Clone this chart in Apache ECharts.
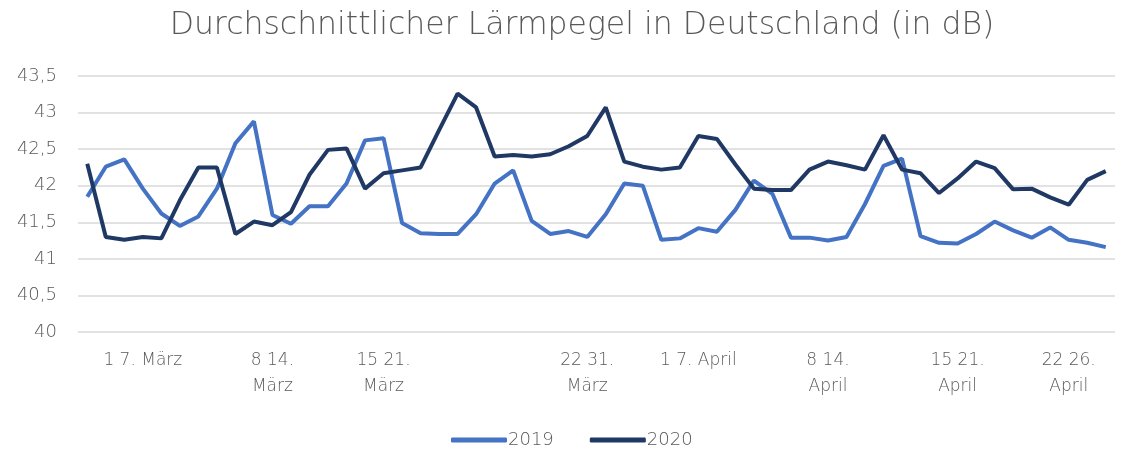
<!DOCTYPE html>
<html>
<head>
<meta charset="utf-8">
<title>Lärmpegel</title>
<script src="https://cdn.jsdelivr.net/npm/echarts@6/dist/echarts.min.js"></script>
<style>
	html, body { margin: 0; padding: 0; background: #fff; }
	#chart { width: 1122px; height: 450px; }
</style>
</head>
<body>
<div id="chart"></div>
<script>
// Tage (56 Messpunkte), nur einige bekommen eine Beschriftung
var tickPos = [3, 10, 16, 27, 33, 40, 47, 53];
var tickLabels = ['1 7. März', '8 14.\nMärz', '15 21.\nMärz', '22 31.\nMärz',
	'1 7. April', '8 14.\nApril', '15 21.\nApril', '22 26.\nApril'];

var werte2019 = [41.85, 42.26, 42.36, 41.96, 41.62, 41.45, 41.58, 41.96, 42.58, 42.88,
	41.60, 41.48, 41.72, 41.72, 42.03, 42.62, 42.65, 41.49, 41.35, 41.34,
	41.34, 41.61, 42.03, 42.21, 41.52, 41.34, 41.38, 41.30, 41.61, 42.03,
	42.00, 41.26, 41.28, 41.42, 41.37, 41.67, 42.07, 41.89, 41.29, 41.29,
	41.25, 41.30, 41.75, 42.27, 42.37, 41.31, 41.22, 41.21, 41.34, 41.51,
	41.39, 41.29, 41.43, 41.26, 41.22, 41.16];

var werte2020 = [42.30, 41.30, 41.26, 41.30, 41.28, 41.80, 42.25, 42.25, 41.34, 41.51,
	41.46, 41.64, 42.15, 42.49, 42.51, 41.96, 42.17, 42.21, 42.25, 42.76,
	43.26, 43.07, 42.40, 42.42, 42.40, 42.43, 42.54, 42.68, 43.07, 42.33,
	42.26, 42.22, 42.25, 42.68, 42.64, 42.29, 41.96, 41.94, 41.94, 42.22,
	42.33, 42.28, 42.22, 42.69, 42.22, 42.17, 41.90, 42.10, 42.33, 42.24,
	41.95, 41.96, 41.84, 41.74, 42.08, 42.20];

var tage = werte2019.map(function(v, i) { return String(i + 1); });

var schrift = '"DejaVu Sans", sans-serif';
var grau = '#595959';

var chart = echarts.init(document.getElementById('chart'));

var option = {
	animation: false,
	title: {
		text: 'Durchschnittlicher Lärmpegel in Deutschland (in dB)',
		left: 577,
		textAlign: 'center',
		top: 5,
		textStyle: {
			fontFamily: schrift,
			fontWeight: 200,
			fontSize: 31.5,
			color: grau
		}
	},
	legend: {
		data: ['2019', '2020'],
		left: 446,
		top: 426,
		icon: 'roundRect',
		itemWidth: 56,
		itemHeight: 5,
		itemGap: 36,
		textStyle: {
			fontFamily: schrift,
			fontWeight: 200,
			fontSize: 18,
			color: grau,
			padding: [0, 0, 0, -4]
		}
	},
	grid: {
		left: 78,
		right: 7,
		top: 76,
		bottom: 118
	},
	xAxis: {
		type: 'category',
		data: tage,
		axisLine: { show: false },
		axisTick: { show: false },
		axisLabel: {
			interval: 0,
			margin: 16,
			fontFamily: schrift,
			fontWeight: 200,
			fontSize: 17,
			lineHeight: 26,
			color: grau,
			formatter: function(value, index) {
				var k = tickPos.indexOf(index);
				return k >= 0 ? tickLabels[k] : '';
			}
		}
	},
	yAxis: {
		type: 'value',
		min: 40,
		max: 43.5,
		interval: 0.5,
		axisLine: { show: false },
		axisTick: { show: false },
		axisLabel: {
			margin: 21,
			fontFamily: schrift,
			fontWeight: 200,
			fontSize: 18,
			color: grau,
			formatter: function(v) {
				return String(v).replace('.', ',');
			}
		},
		splitLine: {
			lineStyle: { color: '#d9d9d9', width: 1.5 }
		}
	},
	series: [
		{
			name: '2019',
			type: 'line',
			data: werte2019,
			symbol: 'none',
			color: '#4472c4',
			lineStyle: { width: 4, color: '#4472c4' }
		},
		{
			name: '2020',
			type: 'line',
			data: werte2020,
			symbol: 'none',
			color: '#203864',
			lineStyle: { width: 4, color: '#203864' }
		}
	]
};

chart.setOption(option);
window.onresize = function() {
	chart.resize();
};
</script>
</body>
</html>
